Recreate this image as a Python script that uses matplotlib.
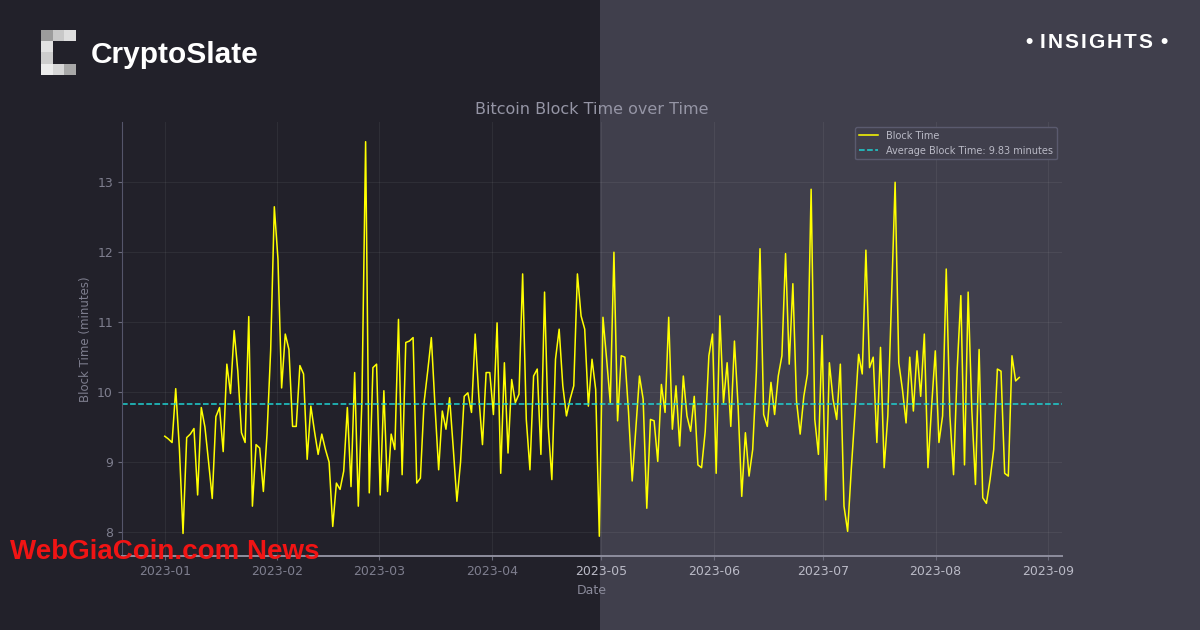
import matplotlib.pyplot as plt
import matplotlib.dates as mdates
from matplotlib.patches import Rectangle
import pandas as pd

# Daily block time (minutes) in nine stretches
part_1 = [9.37, 9.33, 9.28, 10.05, 9.2, 7.98, 9.35, 9.40, 9.48, 8.53, 9.78, 9.50, 9.0,
          8.48, 9.65, 9.78, 9.15, 10.40, 9.98, 10.88, 10.30, 9.42, 9.28, 11.08, 8.37, 9.25]
part_2 = [9.2, 8.58, 9.4, 10.6, 12.65, 11.9, 10.06, 10.83, 10.61, 9.51, 9.51, 10.38, 10.26,
          9.04, 9.80, 9.44, 9.11, 9.40, 9.18, 9.0, 8.08, 8.70, 8.61, 8.87, 9.78, 8.65, 10.28]
part_3 = [8.37, 9.9, 13.58, 8.56, 10.35, 10.40, 8.53, 10.02, 8.58, 9.40, 9.18, 11.04, 8.82,
          10.71, 10.73, 10.78, 8.70, 8.77, 9.85, 10.3, 10.78, 9.8, 8.89, 9.73, 9.47]
part_4 = [9.92, 9.2, 8.44, 9.0, 9.94, 9.99, 9.71, 10.83, 9.94, 9.25, 10.28, 10.28, 9.68,
          10.99, 8.84, 10.42, 9.13, 10.18, 9.85, 9.97, 11.69, 9.61, 8.89, 10.23, 10.33, 9.11]
part_5 = [11.43, 9.51, 8.75, 10.47, 10.90, 10.09, 9.66, 9.90, 10.09, 11.69, 11.09, 10.90, 9.80,
          10.47, 10.04, 7.94, 11.07, 10.47, 9.85, 12.0, 9.59, 10.52, 10.50, 9.71, 8.73]
part_6 = [9.47, 10.23, 9.90, 8.34, 9.61, 9.59, 9.01, 10.11, 9.71, 11.07, 9.47, 10.09, 9.23,
          10.23, 9.66, 9.44, 9.94, 8.96, 8.92, 9.44, 10.52, 10.83, 8.84, 11.09, 9.85, 10.42, 9.51]
part_7 = [10.73, 9.80, 8.51, 9.42, 8.80, 9.18, 10.28, 12.05, 9.68, 9.51, 10.14, 9.68, 10.23,
          10.52, 11.98, 10.40, 11.55, 9.87, 9.40, 9.94, 10.26, 12.9, 9.61, 9.11, 10.81, 8.46, 10.42]
part_8 = [9.90, 9.61, 10.40, 8.37, 8.01, 8.9, 9.7, 10.54, 10.26, 12.03, 10.35, 10.50, 9.28,
          10.64, 8.92, 9.66, 11.3, 13.0, 10.42, 10.04, 9.56, 10.50, 9.73, 10.59, 9.94, 10.83]
part_9 = [8.92, 9.80, 10.59, 9.28, 9.66, 11.76, 9.66, 8.82, 10.33, 11.38, 8.96, 11.43, 9.75,
          8.68, 10.61, 8.49, 8.41, 8.75, 9.18, 10.33, 10.30, 8.84, 8.80, 10.52, 10.16, 10.21]
avg_block_time = 9.83
start_date, end_date = '2023-01-01', '2023-08-24'

block_time = part_1 + part_2 + part_3 + part_4 + part_5 + part_6 + part_7 + part_8 + part_9
dates = pd.date_range(start_date, end_date, periods=len(block_time))

W, H = 1200, 630
BG_LEFT = '#22212a'
BG_RIGHT = '#403f4c'
TXT_DARK = '#7e7e8e'
TXT_LIGHT = '#babac6'

fig = plt.figure(figsize=(12, 6.3), dpi=100)
fig.patch.set_facecolor(BG_LEFT)
fig.add_artist(Rectangle((0.5, 0), 0.5, 1, transform=fig.transFigure,
                         facecolor=BG_RIGHT, edgecolor='none', zorder=-10))


def px_rect(x, y, w, h, color):
    fig.add_artist(Rectangle((x / W, 1 - (y + h) / H), w / W, h / H,
                             transform=fig.transFigure, facecolor=color,
                             edgecolor='none', zorder=5))


ax = fig.add_axes([0.1017, 0.1175, 0.7833, 0.6889])
ax.set_facecolor('none')

ax.plot(dates, block_time, color='#ffff00', lw=1.1, label='Block Time')
ax.axhline(avg_block_time, color='#1fd2d2', ls='--', lw=1.1,
           label=f'Average Block Time: {avg_block_time:.2f} minutes')

ax.xaxis.set_major_locator(mdates.MonthLocator())
ax.xaxis.set_major_formatter(mdates.DateFormatter('%Y-%m'))
ax.tick_params(axis='both', labelsize=9, length=3, color='#6a6a7a', labelcolor=TXT_DARK)
ax.grid(True, color='white', alpha=0.06, lw=0.8)

for side in ['top', 'right']:
    ax.spines[side].set_visible(False)
ax.spines['left'].set_color('#55556a')
ax.spines['left'].set_linewidth(0.8)
ax.spines['bottom'].set_color('#8e8e9e')
ax.spines['bottom'].set_linewidth(1.4)

ax.set_title('Bitcoin Block Time over Time', fontsize=11.5, color='#9595a5')
ax.set_xlabel('Date', fontsize=9, color='#8a8a9a')
ax.set_ylabel('Block Time (minutes)', fontsize=8.5, color=TXT_DARK)

ax.legend(loc='upper right', fontsize=7, facecolor=BG_RIGHT, edgecolor='#5a5a6e',
          framealpha=1, labelcolor=TXT_LIGHT)

# right half of the card is lighter, so its tick labels read brighter
fig.canvas.draw()
renderer = fig.canvas.get_renderer()
for lbl in ax.get_xticklabels():
    x_px = ax.transData.transform((lbl.get_position()[0], 0))[0]
    if x_px >= W / 2:
        lbl.set_color(TXT_LIGHT)

# CryptoSlate logo
logo_cells = [(0, 0, '#9c9c9c'), (1, 0, '#c8c8c8'), (2, 0, '#dedede'),
              (0, 1, '#e2e2e2'), (0, 2, '#cdcdcd'),
              (0, 3, '#ececec'), (1, 3, '#d6d6d6'), (2, 3, '#a8a8a8')]
for col, row, c in logo_cells:
    px_rect(41 + col * 11.7, 30 + row * 11.25, 11.7, 11.25, c)

fig.text(91 / W, 1 - 63 / H, 'CryptoSlate', fontsize=21.5, fontweight='bold',
         color='white', family='Liberation Sans', ha='left', va='baseline')

# letter-spaced "• INSIGHTS •"
ins_size = 15
x_cur = 1025
for ch in '• INSIGHTS •':
    if ch == ' ':
        x_cur += 0.278 * ins_size * 100 / 72
        continue
    t = fig.text(x_cur / W, 1 - 48 / H, ch, fontsize=ins_size, fontweight='bold',
                 color='white', family='Liberation Sans', ha='left', va='baseline')
    x_cur += t.get_window_extent(renderer).width + 2.0

fig.text(10 / W, 1 - 559 / H, 'WebGiaCoin.com News', fontsize=20, fontweight='bold',
         color='#f01414', family='Liberation Sans', ha='left', va='baseline', zorder=20)

fig.savefig('out.png', dpi=100, facecolor=fig.get_facecolor())
